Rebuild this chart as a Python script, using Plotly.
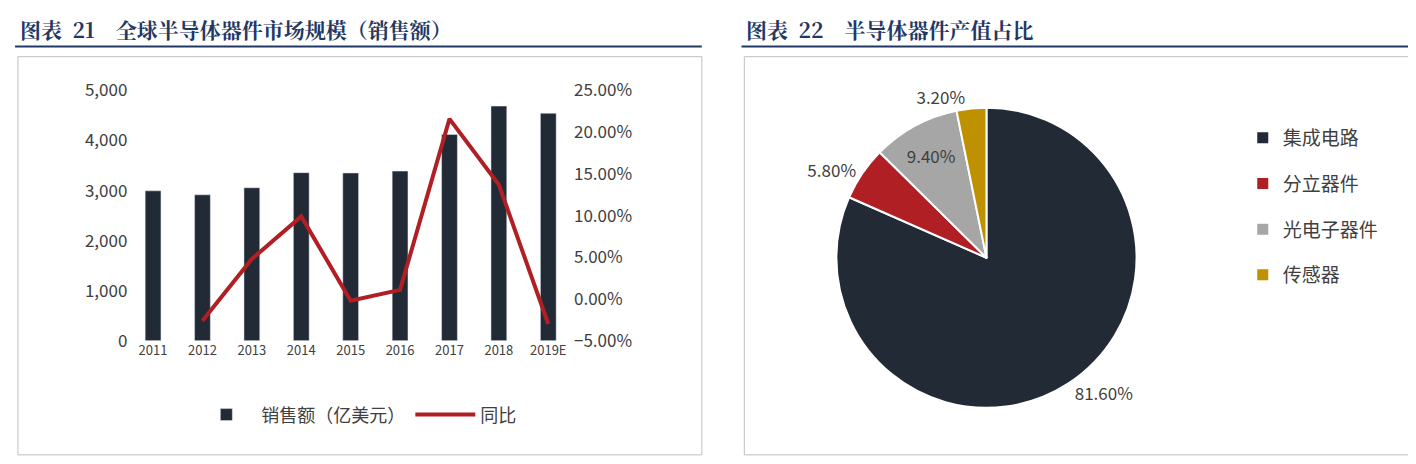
import plotly.graph_objects as go

years = ['2011', '2012', '2013', '2014', '2015', '2016', '2017', '2018', '2019E']
sales = [2995, 2916, 3056, 3358, 3352, 3389, 4122, 4688, 4545]
yoy_years = years[1:]
yoy = [-2.6, 4.8, 9.9, -0.2, 1.1, 21.6, 13.7, -3.0]

pie_labels = ['集成电路', '分立器件', '光电子器件', '传感器']
pie_values = [81.6, 5.8, 9.4, 3.2]
pie_colors = ['#222a35', '#b01f24', '#a6a6a6', '#bf9000']

FONT = 'Noto Sans CJK SC'
TXT = '#404040'
NAVY = '#1f3864'

fig = go.Figure()
fig.add_trace(go.Bar(x=years, y=sales, name='销售额（亿美元）', marker_color='#222a35',
                     width=0.32, legend='legend'))
fig.add_trace(go.Scatter(x=yoy_years, y=yoy, name='同比', mode='lines',
                         line=dict(color='#b01f24', width=4), yaxis='y2', legend='legend'))
fig.add_trace(go.Pie(labels=pie_labels, values=pie_values,
                     marker=dict(colors=pie_colors, line=dict(color='white', width=2)),
                     sort=False, direction='clockwise', rotation=0, showlegend=False,
                     texttemplate='%{value:.2f}%',
                     textposition=['outside', 'outside', 'inside', 'outside'],
                     insidetextorientation='horizontal',
                     textfont=dict(size=17, color=TXT, family=FONT),
                     domain=dict(x=[0.585, 0.797], y=[0.121, 0.805])))
# legend entries for the pie (separate groups so the spacing can be set)
for lab, col in zip(pie_labels, pie_colors):
    fig.add_trace(go.Scatter(x=[None], y=[None], mode='markers', name=lab, legendgroup=lab,
                             marker=dict(symbol='square', size=11, color=col), legend='legend2'))

fig.update_layout(
    width=1416, height=464, margin=dict(l=0, r=0, t=0, b=0),
    paper_bgcolor='white', plot_bgcolor='white',
    font=dict(family=FONT, color=TXT),
    xaxis=dict(domain=[0.085, 0.399], tickfont=dict(size=13), showline=False, ticks=''),
    yaxis=dict(domain=[0.274, 0.844], range=[0, 5000], dtick=1000, tickformat=',',
               showgrid=False, zeroline=False, tickfont=dict(size=17)),
    yaxis2=dict(range=[-5, 25], dtick=5, overlaying='y', side='right', showgrid=False,
                zeroline=False, ticksuffix='%', tickformat='.2f', tickfont=dict(size=17)),
    legend=dict(orientation='h', x=0.246, xanchor='center', y=0.105, yanchor='middle',
                font=dict(size=18), itemwidth=60),
    legend2=dict(x=0.872, y=0.58, yanchor='middle', font=dict(size=19), tracegroupgap=18),
)

shapes = [
    dict(type='line', xref='paper', yref='paper', x0=0.005, x1=0.49, y0=0.944, y1=0.944, line=dict(color=NAVY, width=2)),
    dict(type='line', xref='paper', yref='paper', x0=0.518, x1=0.995, y0=0.944, y1=0.944, line=dict(color=NAVY, width=2)),
    dict(type='rect', xref='paper', yref='paper', x0=0.007, x1=0.49, y0=0.014, y1=0.921, line=dict(color='#bfbfbf', width=1)),
    dict(type='rect', xref='paper', yref='paper', x0=0.52, x1=0.993, y0=0.014, y1=0.921, line=dict(color='#bfbfbf', width=1)),
]
fig.update_layout(shapes=shapes)
fig.add_annotation(text='<b>图表  21    全球半导体器件市场规模（销售额）</b>', xref='paper', yref='paper',
                   x=0.007, y=0.985, xanchor='left', yanchor='middle', showarrow=False,
                   font=dict(size=21, color=NAVY, family='Noto Serif CJK SC, ' + FONT))
fig.add_annotation(text='<b>图表  22    半导体器件产值占比</b>', xref='paper', yref='paper',
                   x=0.52, y=0.985, xanchor='left', yanchor='middle', showarrow=False,
                   font=dict(size=21, color=NAVY, family='Noto Serif CJK SC, ' + FONT))

fig.write_html('out.html')
